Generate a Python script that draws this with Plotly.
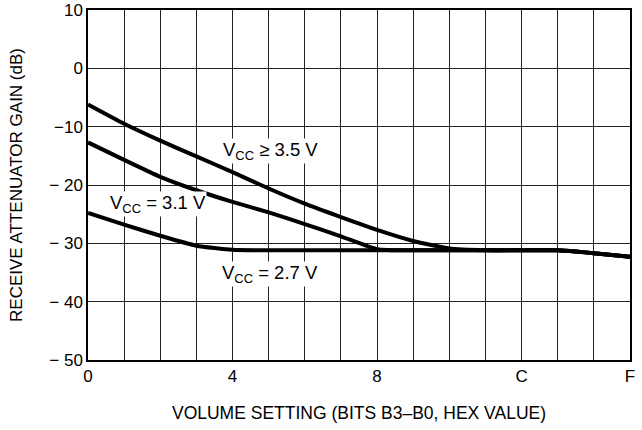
import plotly.graph_objects as go

x_vals = [0, 1, 2, 3, 4, 5, 6, 7, 8, 9, 10, 11, 12, 13, 13.5, 14, 15]
vcc35 = [-6.2, -9.5, -12.4, -15.1, -17.8, -20.6, -23.2, -25.5, -27.7, -29.6, -30.9, -31.2, -31.2, -31.2, -31.4, -31.7, -32.3]
vcc31 = [-12.7, -15.7, -18.6, -20.9, -22.9, -24.7, -26.7, -28.8, -31.0, -31.2, -31.2, -31.2, -31.2, -31.2, -31.4, -31.7, -32.3]
vcc27 = [-24.8, -26.8, -28.7, -30.4, -31.1, -31.2, -31.2, -31.2, -31.2, -31.2, -31.2, -31.2, -31.2, -31.2, -31.4, -31.7, -32.3]

x_tickvals = [0, 4, 8, 12, 15]
x_ticktext = ["0", "4", "8", "C", "F"]
y_tickvals = [10, 0, -10, -20, -30, -40, -50]
y_ticktext = ["10", "0", "\u221210", "\u2212 20", "\u2212 30", "\u2212 40", "\u2212 50"]

labels = ["V<sub>CC</sub> \u2265 3.5 V", "V<sub>CC</sub> = 3.1 V", "V<sub>CC</sub> = 2.7 V"]
label_x = [5.04, 1.94, 5.04]
label_y = [-14.2, -23.3, -35.3]

FONT = "Liberation Sans, Arial, sans-serif"

fig = go.Figure()
for ys in (vcc35, vcc31, vcc27):
    fig.add_trace(go.Scatter(x=x_vals, y=ys, mode="lines",
                             line=dict(color="black", width=4, shape="spline", smoothing=0.5),
                             showlegend=False, hoverinfo="skip"))

for t, ax_, ay_ in zip(labels, label_x, label_y):
    fig.add_annotation(x=ax_, y=ay_, text=t, showarrow=False, bgcolor="white",
                       font=dict(family=FONT, size=18.5, color="black"), borderpad=0)

fig.update_layout(
    width=642, height=430,
    margin=dict(l=88, r=12, t=10, b=70),
    paper_bgcolor="white", plot_bgcolor="white",
    font=dict(family=FONT, size=17, color="black"),
)
fig.update_xaxes(range=[0, 15], showgrid=True, gridcolor="#222222", gridwidth=1.3,
                 tickmode="array", tickvals=x_tickvals, ticktext=x_ticktext, ticks="",
                 tickfont=dict(size=17), automargin=False,
                 showline=True, linecolor="black", linewidth=1.5, mirror=True, zeroline=False,
                 title=dict(text="VOLUME SETTING (BITS B3\u2013B0, HEX VALUE)", standoff=22,
                            font=dict(family=FONT, size=17.5)))
fig.update_yaxes(range=[-50, 10], showgrid=True, gridcolor="#222222", gridwidth=1.3,
                 tickmode="array", tickvals=y_tickvals, ticktext=y_ticktext, ticks="",
                 tickfont=dict(size=17), automargin=False,
                 showline=True, linecolor="black", linewidth=1.5, mirror=True, zeroline=False,
                 title=dict(text="RECEIVE ATTENUATOR GAIN (dB)", standoff=22,
                            font=dict(family=FONT, size=17)))
fig.update_xaxes(minor=dict(tickvals=list(range(16)), showgrid=True, gridcolor="#222222", gridwidth=1.3, ticks=""))

fig.write_html("out.html", config={"displayModeBar": False},
               post_script="document.body.style.margin='0';document.body.style.overflow='hidden';")
